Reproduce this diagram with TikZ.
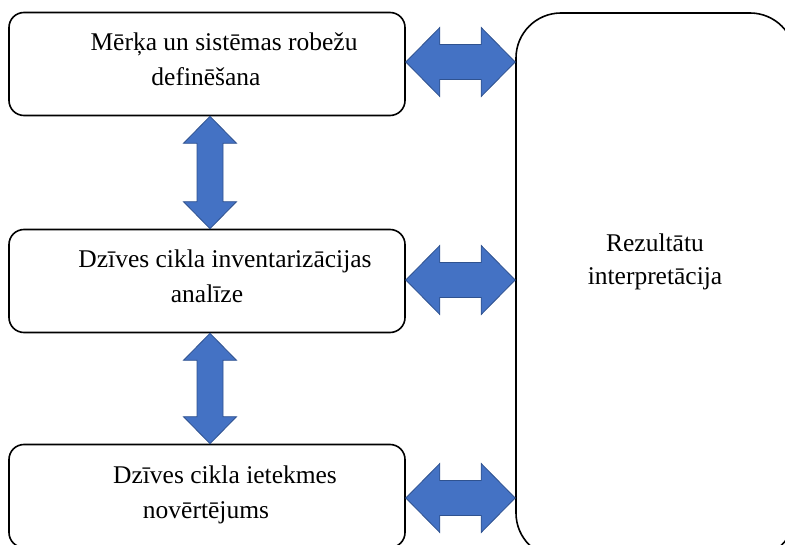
\documentclass[tikz,border=0pt]{standalone}
\usepackage{fontspec}
\setmainfont{Liberation Serif}
\usetikzlibrary{calc}

\tikzset{
  stagebox/.style={draw=black, line width=1.6bp, rounded corners=15bp,
    minimum width=396bp, minimum height=103bp, inner sep=0pt},
  resultbox/.style={draw=black, line width=1.6bp, rounded corners=45bp,
    minimum width=279bp, minimum height=545bp, inner sep=0pt},
  label/.style={anchor=base, inner sep=0pt,
    font=\fontsize{25.5bp}{30bp}\selectfont},
  flow/.style={fill=arrowblue, draw=arrowedge, line width=0.8bp, line join=miter},
}
\definecolor{arrowblue}{HTML}{4472C4}
\definecolor{arrowedge}{HTML}{2F528F}

% horizontal block double arrow between two tip points
\newcommand\hflow[2]{%
  \draw[flow] let \p1=(#1), \p2=(#2) in
    (\x1,\y1) -- (\x1+34bp,\y1+34.5bp) -- (\x1+34bp,\y1+17.5bp)
    -- (\x2-34bp,\y1+17.5bp) -- (\x2-34bp,\y1+34.5bp) -- (\x2,\y1)
    -- (\x2-34bp,\y1-34.5bp) -- (\x2-34bp,\y1-17.5bp)
    -- (\x1+34bp,\y1-17.5bp) -- (\x1+34bp,\y1-34.5bp) -- cycle;}
% vertical block double arrow between two tip points (#1 above #2)
\newcommand\vflow[2]{%
  \draw[flow] let \p1=(#1), \p2=(#2) in
    (\x1,\y1) -- (\x1+26.5bp,\y1-27bp) -- (\x1+13bp,\y1-27bp)
    -- (\x1+13bp,\y2+27bp) -- (\x1+26.5bp,\y2+27bp) -- (\x1,\y2)
    -- (\x1-26.5bp,\y2+27bp) -- (\x1-13bp,\y2+27bp)
    -- (\x1-13bp,\y1-27bp) -- (\x1-26.5bp,\y1-27bp) -- cycle;}

\begin{document}
\begin{tikzpicture}[x=1bp, y=-1bp]
\useasboundingbox (0,0) rectangle (785,545);

% stage boxes and the result box
\node[stagebox] (b1) at (207,64) {};
\node[stagebox] (b2) at (207,281) {};
\node[stagebox] (b3) at (207,496) {};
\node[resultbox] (rb) at (655.5,285.5) {};

% box texts
\node[label] (t1a) at (224,51) {Mērķa un sistēmas robežu};
\node[label] (t1b) at (206,86) {definēšana};
\node[label] (t2a) at (225,268) {Dzīves cikla inventarizācijas};
\node[label] (t2b) at (207,303) {analīze};
\node[label] (t3a) at (225,483) {Dzīves cikla ietekmes};
\node[label] (t3b) at (206,518) {novērtējums};
\node[label] (tra) at (655,252) {Rezultātu};
\node[label] (trb) at (655,285) {interpretācija};

% links between boxes
\hflow{$(b1.east)+(0,-2)$}{$(rb.west |- b1.east)+(0,-2)$}
\hflow{$(b2.east)+(0,-1)$}{$(rb.west |- b2.east)+(0,-1)$}
\hflow{$(b3.east)+(0,2)$}{$(rb.west |- b3.east)+(0,2)$}
\vflow{$(b1.south)+(3,0)$}{$(b2.north)+(3,0)$}
\vflow{$(b2.south)+(3,0)$}{$(b3.north)+(3,0)$}
\end{tikzpicture}
\end{document}
